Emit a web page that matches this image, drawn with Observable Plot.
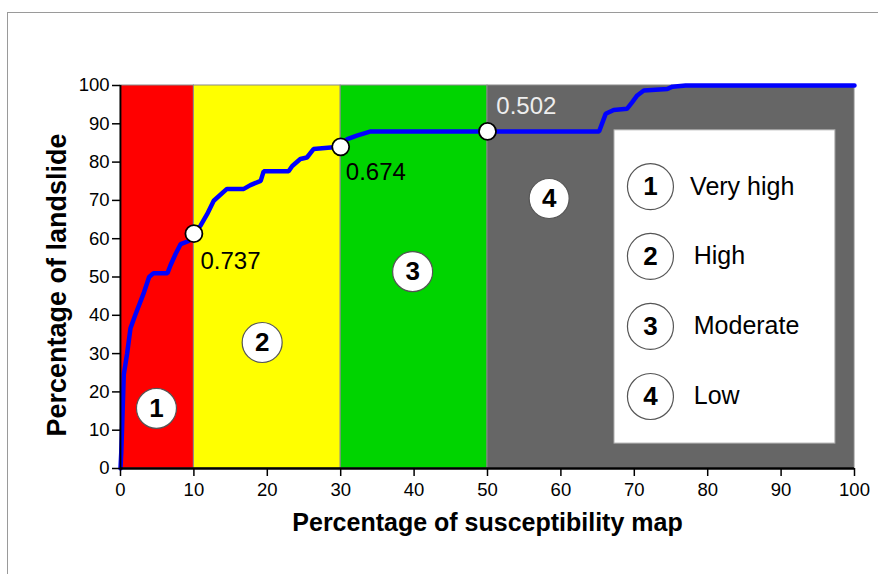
<!DOCTYPE html>
<html><head><meta charset="utf-8">
<script src="https://cdn.jsdelivr.net/npm/d3@7"></script>
<script src="https://cdn.jsdelivr.net/npm/@observablehq/plot@0.6"></script>
<style>
html,body{margin:0;padding:0;background:#fff;}
#frame{position:absolute;left:7px;top:12px;right:0;bottom:0;border-top:1px solid #9a9a9a;border-left:1px solid #9a9a9a;}
#chart{position:absolute;left:0;top:0;}
svg{font-family:Arial,"Liberation Sans",sans-serif;}
</style></head>
<body><div id="frame"></div><div id="chart"></div>
<script>
// Success-rate curve (x: % of susceptibility map, y: % of landslides)
const curveX = [0, 0.1, 0.2, 0.45, 0.9, 1.36, 2.0, 3.2, 3.9, 4.5, 6.4, 6.8, 7.5, 8.2, 9.3, 10.0, 10.9, 11.8, 12.7, 14.5, 16.8, 17.7, 19.1, 19.5, 22.9, 23.4, 24.5, 25.4, 26.3, 29.8, 30.9, 32.2, 34.1, 50, 65.2, 66.1, 67.2, 69, 69.7, 70.4, 71.3, 74.5, 75.2, 77, 100];
const curveY = [0, 4, 9.7, 24.6, 30, 36.6, 40, 46, 50, 51, 51, 53, 56, 58.6, 59.4, 61.3, 63.4, 66.4, 69.9, 73, 73, 74, 75.1, 77.6, 77.6, 79, 80.8, 81.2, 83.4, 84, 86, 86.9, 88, 88, 88, 92.6, 93.6, 93.9, 95.6, 97.4, 98.7, 99.1, 99.7, 100, 100];

// Susceptibility classes
const classNames = ["Very high", "High", "Moderate", "Low"];
const classNums = ["1", "2", "3", "4"];
const classStart = [0, 10, 30, 50];
const classEnd = [10, 30, 50, 100];
const classColors = ["#ff0000", "#ffff00", "#00d400", "#666666"];
const badgeX = [4.9, 19.3, 39.8, 58.4];
const badgeY = [15.7, 32.9, 51.4, 70.5];

// Break points and their values
const breakX = [10, 30, 50];
const breakY = [61.3, 84, 88];
const breakLabels = ["0.737", "0.674", "0.502"];
const breakLabelX = [10.9, 30.7, 51.2];
const breakLabelY = [54, 77.3, 94.5];
const breakLabelColors = ["#000000", "#000000", "#eeeeee"];

// Legend box (in data units)
const legendBox = {x1: 67.3, x2: 97.4, y1: 6.5, y2: 88.3};
const legendCircleX = 72.2;
const legendTextX = [77.6, 78.1, 78.1, 78.1];
const legendY = [73.6, 55.4, 37.1, 18.8];

const ticks = d3.range(0, 101, 10);

const curve = curveX.map((x, i) => ({x, y: curveY[i]}));
const classes = classNames.map((n, i) => ({name: n, num: classNums[i], x1: classStart[i], x2: classEnd[i], color: classColors[i], bx: badgeX[i], by: badgeY[i], ly: legendY[i], lx: legendTextX[i]}));
const breaks = breakX.map((x, i) => ({x, y: breakY[i], label: breakLabels[i], lx: breakLabelX[i], ly: breakLabelY[i], c: breakLabelColors[i]}));

const chart = Plot.plot({
  width: 878, height: 574,
  marginLeft: 120, marginRight: 24, marginTop: 85, marginBottom: 106,
  style: {fontFamily: 'Arial, "Liberation Sans", sans-serif', fontSize: "18.5px", background: "transparent"},
  x: {domain: [0, 100], ticks, label: null},
  y: {domain: [0, 100], ticks, label: null},
  marks: [
    Plot.rect(classes, {x1: "x1", x2: "x2", y1: 0, y2: 100, fill: "color", stroke: "#8a8a8a", strokeWidth: 1}),
    Plot.rect([legendBox], {x1: "x1", x2: "x2", y1: "y1", y2: "y2", fill: "#ffffff", stroke: "#aaaaaa"}),
    Plot.dot(classes, {x: "bx", y: "by", r: 20, fill: "#ffffff", stroke: "#555555", strokeWidth: 1.2}),
    Plot.text(classes, {x: "bx", y: "by", text: "num", fontSize: 26, fontWeight: "bold", fill: "#000"}),
    Plot.dot(classes, {x: legendCircleX, y: "ly", r: 23, fill: "#ffffff", stroke: "#555555", strokeWidth: 1.2}),
    Plot.text(classes, {x: legendCircleX, y: "ly", text: "num", fontSize: 26, fontWeight: "bold", fill: "#000"}),
    Plot.text(classes, {x: "lx", y: "ly", text: "name", fontSize: 25, textAnchor: "start", fill: "#000"}),
    Plot.line(curve, {x: "x", y: "y", stroke: "#0000ff", strokeWidth: 4.5, strokeLinejoin: "miter", strokeLinecap: "round"}),
    Plot.dot(breaks, {x: "x", y: "y", r: 8.5, fill: "#ffffff", stroke: "#000000", strokeWidth: 1.8}),
    Plot.text(breaks, {x: "lx", y: "ly", text: "label", fontSize: 24, textAnchor: "start", fill: "c"}),
    Plot.ruleX([0], {stroke: "#000", strokeWidth: 1.8}),
    Plot.ruleY([0], {stroke: "#000", strokeWidth: 2.5}),
    Plot.axisX({ticks, tickSize: 8, tickPadding: 6, fontSize: 18.5, stroke: "#000", strokeWidth: 1.5, fill: "#000", label: null}),
    Plot.axisY({ticks, tickSize: 8, tickPadding: 3, fontSize: 18.5, stroke: "#000", strokeWidth: 1.5, fill: "#000", label: null}),
    Plot.text(["Percentage of susceptibility map"], {frameAnchor: "bottom", dy: 62, text: d => d, fontSize: 25, fontWeight: "bold", fill: "#000"}),
    Plot.text(["Percentage of landslide"], {frameAnchor: "left", dx: -63, dy: 8, textAnchor: "middle", text: d => d, rotate: -90, fontSize: 27, fontWeight: "bold", fill: "#000"})
  ]
});
document.getElementById("chart").appendChild(chart);
</script></body></html>
